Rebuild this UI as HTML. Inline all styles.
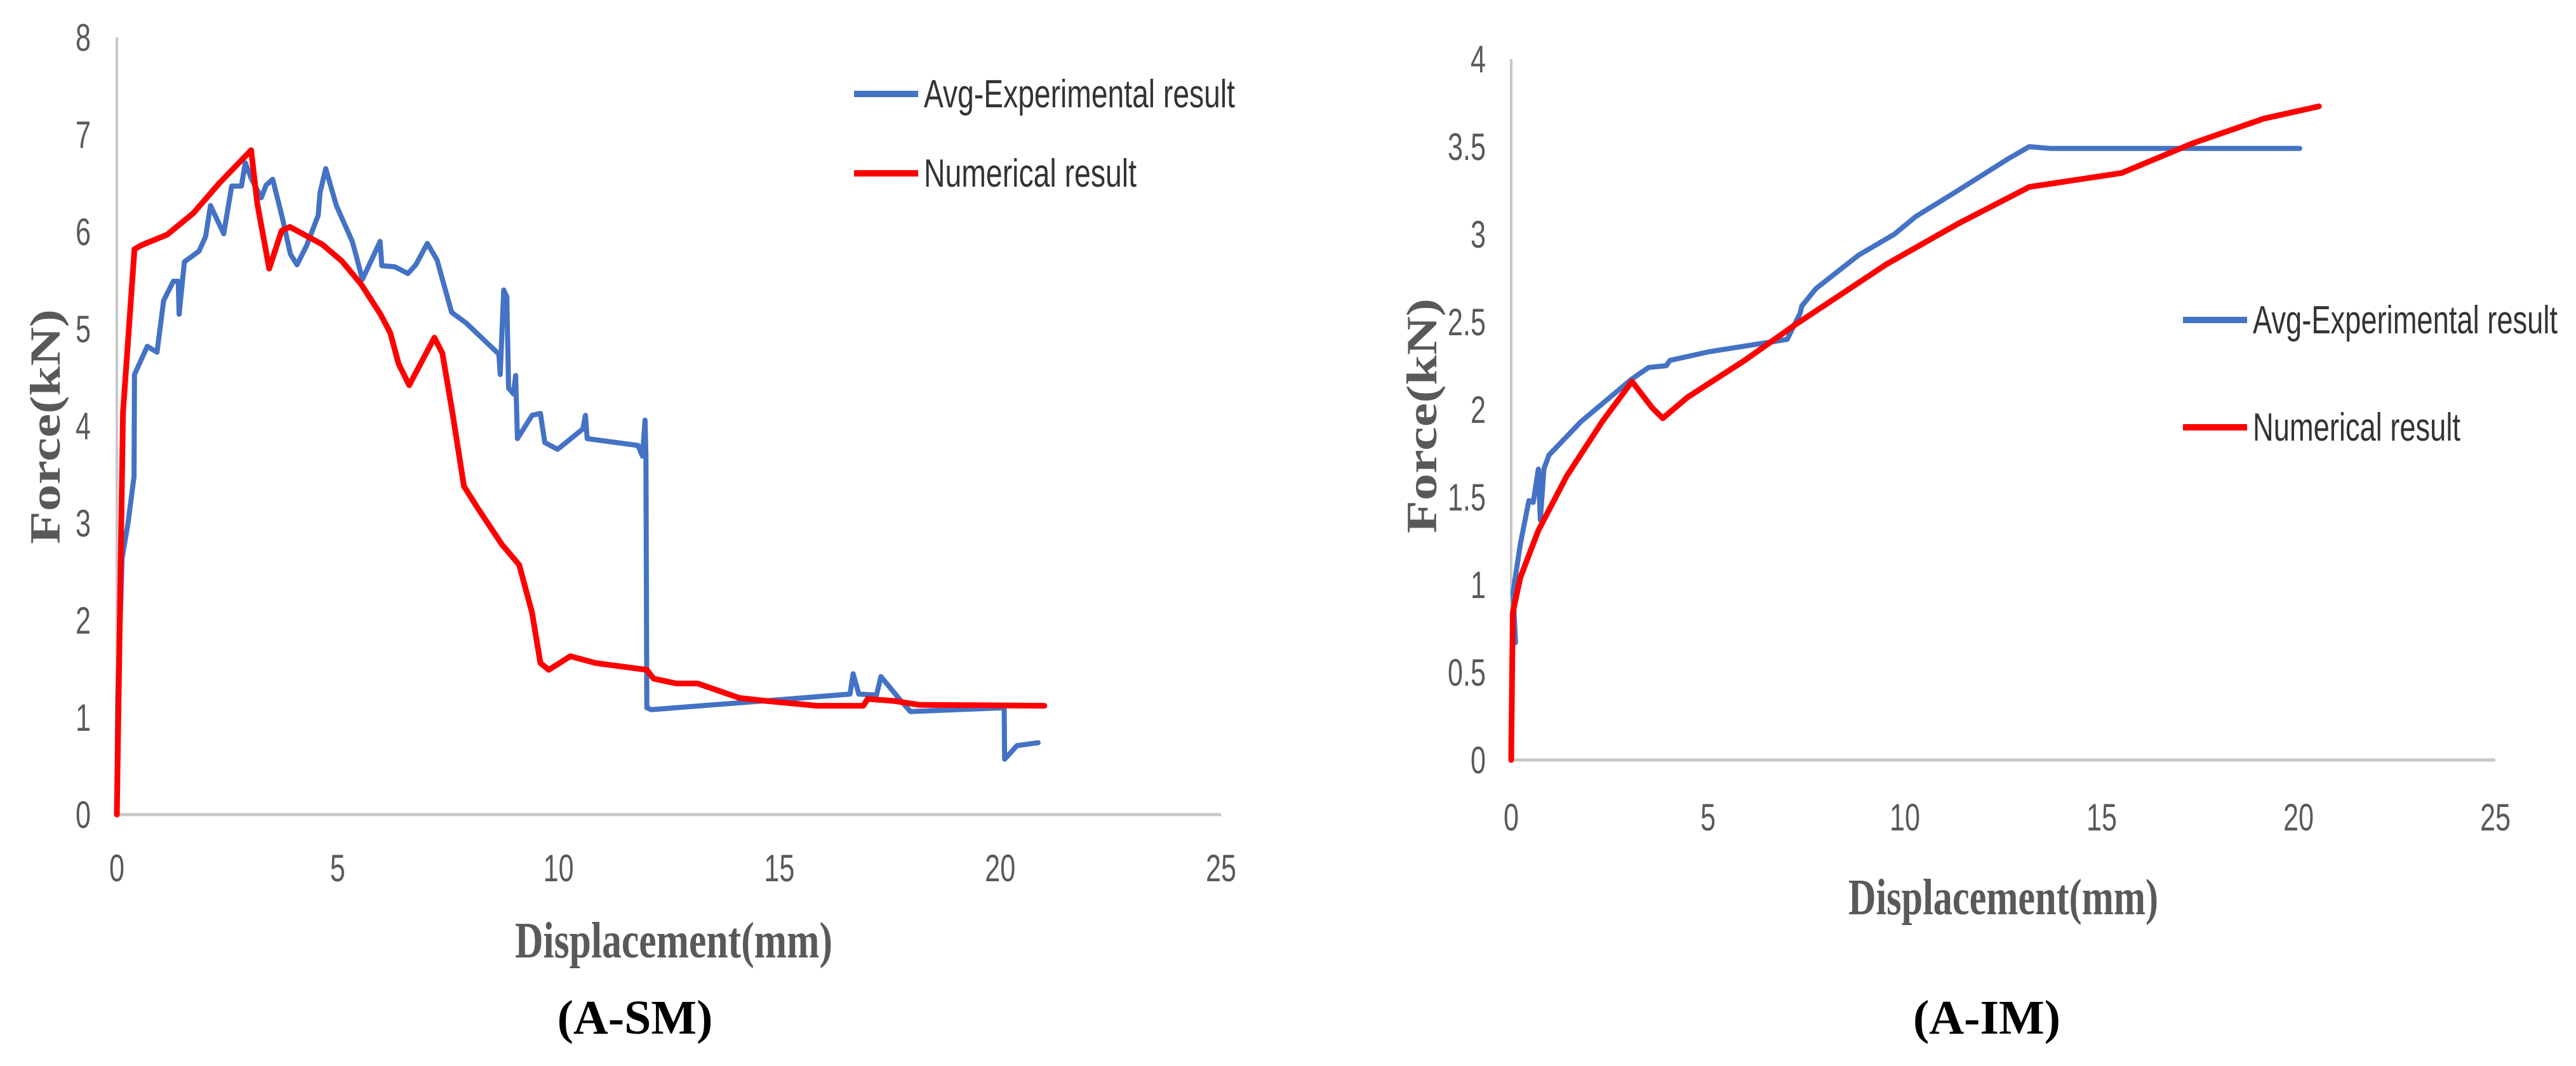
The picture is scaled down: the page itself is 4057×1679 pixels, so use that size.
<!DOCTYPE html>
<html><head><meta charset="utf-8"><title>Force-Displacement comparison</title>
<style>html,body{margin:0;padding:0;background:#fff;}svg{display:block;}</style></head>
<body>
<svg id="fig" xmlns="http://www.w3.org/2000/svg" width="4057" height="1679" viewBox="0 0 4057 1679">
<rect width="4057" height="1679" fill="#fff"/>
</svg>
<script>
// ===== Chart A-SM data =====
const smXTicks = [0, 5, 10, 15, 20, 25];
const smYTicks = [0, 1, 2, 3, 4, 5, 6, 7, 8];
const smExpX = [0,0.02,0.12,0.25,0.39,0.40,0.69,0.91,1.06,1.28,1.39,1.41,1.53,1.86,2.01,2.12,2.42,2.60,2.82,2.91,3.04,3.27,3.38,3.53,3.75,3.93,4.08,4.30,4.56,4.60,4.73,4.97,5.33,5.41,5.56,5.96,6.00,6.29,6.59,6.77,7.03,7.25,7.58,7.91,8.65,8.68,8.76,8.83,8.87,8.98,9.03,9.07,9.40,9.59,9.69,9.98,10.55,10.61,10.65,11.8,11.9,11.96,11.98,12.0,12.1,16.6,16.67,16.8,17.2,17.3,17.7,17.97,20.09,20.1,20.38,20.86];
const smExpY = [0,1.2,2.64,2.99,3.48,4.53,4.82,4.76,5.29,5.49,5.49,5.15,5.69,5.80,5.95,6.27,5.98,6.47,6.47,6.71,6.55,6.35,6.48,6.54,6.14,5.77,5.66,5.86,6.17,6.40,6.65,6.27,5.90,5.77,5.51,5.90,5.65,5.64,5.57,5.66,5.88,5.71,5.17,5.06,4.74,4.53,5.40,5.33,4.39,4.33,4.52,3.87,4.11,4.13,3.83,3.76,3.97,4.11,3.87,3.80,3.69,4.06,3.69,1.10,1.08,1.24,1.45,1.24,1.23,1.42,1.20,1.06,1.10,0.57,0.71,0.74];
const smNumX = [0,0.14,0.40,0.55,1.14,1.73,2.32,3.04,3.18,3.45,3.73,3.92,4.65,5.09,5.53,5.97,6.19,6.38,6.62,7.19,7.37,7.59,7.86,8.15,8.72,9.11,9.40,9.59,9.78,10.27,10.84,12.0,12.15,12.67,13.15,14.1,14.7,15.85,16.9,17.0,17.6,18.16,21.0];
const smNumY = [0,4.14,5.82,5.86,5.97,6.19,6.50,6.84,6.29,5.62,6.01,6.05,5.87,5.70,5.46,5.15,4.96,4.64,4.42,4.91,4.75,4.16,3.38,3.17,2.78,2.57,2.08,1.56,1.49,1.63,1.56,1.49,1.40,1.35,1.35,1.20,1.17,1.12,1.12,1.19,1.17,1.13,1.12];

// ===== Chart A-IM data =====
const imXTicks = [0, 5, 10, 15, 20, 25];
const imYTicks = [0, 0.5, 1, 1.5, 2, 2.5, 3, 3.5, 4];
const imYTickLabels = ["0","0.5","1","1.5","2","2.5","3","3.5","4"];
const imExpX = [0.11,0.05,0.23,0.45,0.56,0.69,0.74,0.83,0.96,1.77,3.04,3.49,3.94,4.03,5.03,7.01,7.34,7.38,7.74,8.82,9.73,10.27,11.35,12.62,13.16,13.70,20.03];
const imExpY = [0.67,0.96,1.23,1.48,1.47,1.66,1.37,1.66,1.74,1.93,2.17,2.24,2.25,2.28,2.33,2.40,2.55,2.59,2.69,2.88,3.00,3.10,3.25,3.43,3.50,3.49,3.49];
const imNumX = [0,0.04,0.23,0.69,1.41,2.31,3.07,3.58,3.85,4.48,5.93,7.19,9.54,11.35,13.16,15.51,17.32,19.12,20.52];
const imNumY = [0,0.84,1.04,1.31,1.62,1.93,2.16,2.01,1.95,2.07,2.28,2.48,2.83,3.06,3.27,3.35,3.52,3.66,3.73];

const NS = "http://www.w3.org/2000/svg";
const svg = document.getElementById('fig');
function mk(tag, attrs, parent) {
  const e = document.createElementNS(NS, tag);
  for (const k in attrs) e.setAttribute(k, attrs[k]);
  (parent || svg).appendChild(e);
  return e;
}

function drawChart(cfg) {
  const g = mk('g', {});
  
  
  const sx = v => cfg.x0 + (v - cfg.xmin) / (cfg.xmax - cfg.xmin) * (cfg.x1 - cfg.x0);
  const sy = v => cfg.y0 - (v - cfg.ymin) / (cfg.ymax - cfg.ymin) * (cfg.y0 - cfg.y1);

  const ya = mk('line', {x1: cfg.x0, y1: cfg.y1, x2: cfg.x0, y2: cfg.y0, stroke: '#c8c8c8', 'stroke-width': 4}, g);
  
  
  const xa = mk('line', {x1: cfg.x0, y1: cfg.y0, x2: cfg.x1, y2: cfg.y0, stroke: '#c8c8c8', 'stroke-width': 5}, g);
  
  

  cfg.yTicks.forEach((v, i) => {
    const t = mk('text', {transform: `translate(${cfg.yLabelRight},${sy(v) + 21}) scale(0.72,1)`, 'text-anchor': 'end', 'font-family': 'Liberation Sans, sans-serif', 'font-size': 60, fill: '#595959'}, g);
    t.textContent = cfg.yTickLabels ? cfg.yTickLabels[i] : String(v);
    
    
  });
  cfg.xTicks.forEach(v => {
    const t = mk('text', {transform: `translate(${sx(v)},${cfg.xLabelY}) scale(0.72,1)`, 'text-anchor': 'middle', 'font-family': 'Liberation Sans, sans-serif', 'font-size': 60, fill: '#595959'}, g);
    t.textContent = String(v);
    
    
  });

  cfg.series.forEach(s => {
    const d = s.xs.map((x, i) => (i ? 'L' : 'M') + sx(x).toFixed(1) + ' ' + sy(s.ys[i]).toFixed(1)).join(' ');
    const p = mk('path', {d: d, fill: 'none', stroke: s.color, 'stroke-width': s.width, 'stroke-linejoin': 'round', 'stroke-linecap': 'round'}, g);
    
    
  });

  cfg.legend.forEach(l => {
    const ln = mk('line', {x1: l.lx1, y1: l.y, x2: l.lx2, y2: l.y, stroke: l.color, 'stroke-width': 10}, g);
    
    
    const t = mk('text', {x: l.tx, y: l.y + 21, 'font-family': 'Liberation Sans, sans-serif', 'font-size': 62, fill: '#333', textLength: l.tw, lengthAdjust: 'spacingAndGlyphs'}, g);
    t.textContent = l.text;
    
    
  });

  const yt = mk('text', {transform: `translate(${cfg.yTitleX},${cfg.yTitleY}) rotate(-90)`, 'text-anchor': 'middle', 'font-family': 'Liberation Serif, serif', 'font-weight': 'bold', 'font-size': 68, fill: '#595959', textLength: 370, lengthAdjust: 'spacingAndGlyphs'}, g);
  yt.textContent = 'Force(kN)';
  
  
  const xt = mk('text', {x: cfg.xTitleX, y: cfg.xTitleY, 'text-anchor': 'middle', 'font-family': 'Liberation Serif, serif', 'font-weight': 'bold', 'font-size': 80, fill: '#595959', textLength: cfg.xTitleW, lengthAdjust: 'spacingAndGlyphs'}, g);
  xt.textContent = 'Displacement(mm)';
  
  
  const cap = mk('text', {x: cfg.capX, y: 1628, 'text-anchor': 'middle', 'font-family': 'Liberation Serif, serif', 'font-weight': 'bold', 'font-size': 76, fill: '#000'}, g);
  cap.textContent = cfg.caption;
  
  
}

drawChart({
  name: 'chart-a-sm', x0: 184, x1: 1923, xmin: 0, xmax: 25, y0: 1283, y1: 59, ymin: 0, ymax: 8,
  xTicks: smXTicks, yTicks: smYTicks, yLabelRight: 143, xLabelY: 1388,
  series: [
    {name: 'sm-experimental-line', xs: smExpX, ys: smExpY, color: '#4472C4', width: 8},
    {name: 'sm-numerical-line', xs: smNumX, ys: smNumY, color: '#FF0000', width: 9}
  ],
  legend: [
    {lx1: 1345, lx2: 1446, y: 148, tx: 1455, tw: 490, color: '#4472C4', text: 'Avg-Experimental result'},
    {lx1: 1345, lx2: 1446, y: 273, tx: 1455, tw: 335, color: '#FF0000', text: 'Numerical result'}
  ],
  yTitleX: 94, yTitleY: 672, xTitleX: 1061, xTitleY: 1508, xTitleW: 500, capX: 1000, caption: '(A-SM)'
});
drawChart({
  name: 'chart-a-im', x0: 2380, x1: 3930, xmin: 0, xmax: 25, y0: 1197, y1: 93, ymin: 0, ymax: 4,
  xTicks: imXTicks, yTicks: imYTicks, yTickLabels: imYTickLabels, yLabelRight: 2340, xLabelY: 1308,
  series: [
    {name: 'im-experimental-line', xs: imExpX, ys: imExpY, color: '#4472C4', width: 8},
    {name: 'im-numerical-line', xs: imNumX, ys: imNumY, color: '#FF0000', width: 9}
  ],
  legend: [
    {lx1: 3438, lx2: 3539, y: 504, tx: 3548, tw: 480, color: '#4472C4', text: 'Avg-Experimental result'},
    {lx1: 3438, lx2: 3539, y: 673, tx: 3548, tw: 327, color: '#FF0000', text: 'Numerical result'}
  ],
  yTitleX: 2262, yTitleY: 655, xTitleX: 3155, xTitleY: 1440, xTitleW: 488, capX: 3129, caption: '(A-IM)'
});
</script>
</body></html>
